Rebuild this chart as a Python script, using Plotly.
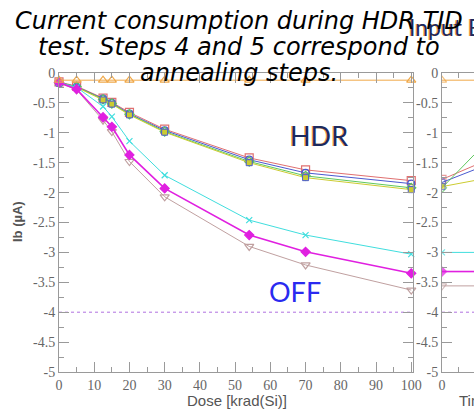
import plotly.graph_objects as go

# ---------------- data ----------------
dose = [0, 5, 12.5, 15, 20, 30, 54, 70, 100]
hdr_red = [-0.15, -0.22, -0.42, -0.49, -0.66, -0.94, -1.42, -1.62, -1.80]
hdr_blue = [-0.16, -0.23, -0.43, -0.50, -0.68, -0.96, -1.45, -1.67, -1.85]
hdr_green = [-0.16, -0.23, -0.44, -0.51, -0.69, -0.98, -1.48, -1.72, -1.92]
hdr_yellow = [-0.17, -0.24, -0.45, -0.52, -0.70, -0.99, -1.50, -1.75, -1.95]
off_cyan = [-0.16, -0.24, -0.56, -0.73, -1.14, -1.71, -2.46, -2.71, -3.03]
off_magenta = [-0.16, -0.27, -0.74, -0.90, -1.37, -1.93, -2.71, -2.99, -3.35]
off_brown = [-0.16, -0.28, -0.79, -0.98, -1.48, -2.07, -2.90, -3.21, -3.63]
top_orange = [-0.12, -0.12, -0.12, -0.12, -0.12, -0.12, -0.12, -0.12, -0.12]
ref_dose = [0, 100]
ref_purple = [-4.0, -4.0]

time_h = [0, 10]
ann_red = [-1.78, -1.55]
ann_blue = [-1.83, -1.62]
ann_green = [-1.92, -1.37]
ann_yellow = [-1.90, -1.80]
ann_cyan = [-3.00, -3.00]
ann_magenta = [-3.32, -3.32]
ann_brown = [-3.56, -3.56]
ann_orange = [-0.12, -0.12]
ann_purple = [-4.0, -4.0]

y_ticks = [0, -0.5, -1, -1.5, -2, -2.5, -3, -3.5, -4, -4.5, -5]
y_ticktext = ["0", "-0.5", "-1", "-1.5", "-2", "-2.5", "-3", "-3.5", "-4", "-4.5", "-5"]
x_ticks = [0, 10, 20, 30, 40, 50, 60, 70, 80, 90, 100]
x2_ticks = [0, 10]

caption_lines = ["Current consumption during HDR TID",
                 "test. Steps 4 and 5 correspond to",
                 "annealing steps."]

# ---------------- layout geometry ----------------
W, H = 474, 409
L, T, B, Rm = 59, 73, 37, 0
PW = W - L - Rm
PH = H - T - B


def px(x):
    return (x - L) / PW


def py(y):
    return (H - B - y) / PH


fig = go.Figure()

series = [
    (hdr_red, ann_red, "#e07070", "square-open", 8, 1),
    (hdr_blue, ann_blue, "#4a5ad0", "circle-open", 7, 1),
    (hdr_green, ann_green, "#5ec85e", "diamond-open", 7, 1),
    (hdr_yellow, ann_yellow, "#cccc30", "square", 6, 1),
    (off_cyan, ann_cyan, "#40dede", "x-thin-open", 6, 1),
    (off_brown, ann_brown, "#c0a0a0", "triangle-down-open", 8, 1),
    (off_magenta, ann_magenta, "#e020e0", "diamond", 7, 1.6),
    (top_orange, ann_orange, "#f0a848", "triangle-up-open", 8, 1),
]

for main_vals, right_vals, col, sym, size, lw in series:
    mline = dict(color=col, width=1.2)
    if sym == "square":
        mline = dict(color="#4a5ad0", width=1)
    fig.add_trace(go.Scatter(
        x=dose, y=main_vals, mode="lines+markers",
        line=dict(color=col, width=lw),
        marker=dict(symbol=sym, size=size, color=col, line=mline),
        xaxis="x", yaxis="y", showlegend=False, cliponaxis=False))
    fig.add_trace(go.Scatter(
        x=time_h, y=right_vals, mode="lines+markers",
        line=dict(color=col, width=lw),
        marker=dict(symbol=sym, size=[size, 0], color=col, line=mline),
        xaxis="x2", yaxis="y2", showlegend=False))

fig.add_trace(go.Scatter(x=ref_dose, y=ref_purple, mode="lines",
                         line=dict(color="#b070e0", width=1, dash="dot"),
                         xaxis="x", yaxis="y", showlegend=False))
fig.add_trace(go.Scatter(x=time_h, y=ann_purple, mode="lines",
                         line=dict(color="#b070e0", width=1, dash="dot"),
                         xaxis="x2", yaxis="y2", showlegend=False))

axis_col = "#9a9a9a"
tickfont = dict(family="Liberation Serif", size=14, color="#666666")
common = dict(showline=True, linecolor=axis_col, linewidth=1, ticks="inside",
              tickcolor=axis_col, ticklen=10, tickwidth=1, showgrid=False,
              zeroline=False, tickfont=tickfont, automargin=False)

fig.update_layout(
    template="none",
    width=W, height=H,
    margin=dict(l=L, r=Rm, t=T, b=B, pad=0),
    paper_bgcolor="white", plot_bgcolor="white",
    xaxis=dict(domain=[0, px(413)], range=[0, 100.5], tickmode="array",
               tickvals=x_ticks, mirror="ticks",
               minor=dict(tickmode="linear", tick0=0, dtick=5, ticks="inside",
                          ticklen=5, tickcolor=axis_col),
               **common),
    yaxis=dict(domain=[0, 1], range=[-5, 0], tickmode="array",
               tickvals=y_ticks, ticktext=y_ticktext, mirror="ticks",
               minor=dict(tickmode="linear", tick0=0, dtick=0.25, ticks="inside",
                          ticklen=5, tickcolor=axis_col),
               **common),
    xaxis2=dict(domain=[px(442), 1], range=[0, 10], tickmode="array",
                tickvals=x2_ticks, mirror="ticks", anchor="y2",
                minor=dict(tickmode="linear", tick0=0, dtick=5, ticks="inside",
                           ticklen=5, tickcolor=axis_col),
                **common),
    yaxis2=dict(domain=[0, 1], range=[-5, 0], tickmode="array",
                tickvals=y_ticks, ticktext=y_ticktext, mirror=False, anchor="x2",
                minor=dict(tickmode="linear", tick0=0, dtick=0.25, ticks="inside",
                           ticklen=5, tickcolor=axis_col),
                **common),
)

ann = []


def text_ann(text, x, y, font, xanchor="center", yanchor="middle", **kw):
    d = dict(text=text, x=px(x), y=py(y), xref="paper", yref="paper",
             xanchor=xanchor, yanchor=yanchor, showarrow=False, font=font)
    d.update(kw)
    return d


# axis titles
ann.append(text_ann("<b>Ib (µA)</b>", 17, 222,
                    dict(family="Liberation Sans", size=13, color="#555555"), textangle=-90))
ann.append(text_ann("Dose [krad(Si)]", 237, 400,
                    dict(family="Liberation Sans", size=15, color="#555555")))
ann.append(text_ann("Time [h]", 457, 400,
                    dict(family="Liberation Sans", size=15, color="#555555"), xanchor="left"))

# HDR / OFF / slide-title labels with orange shadow
labels = [
    ("HDR", 319, 135, "Lato", 27, "#1c2a5e", True, "center"),
    ("OFF", 295, 291, "Lato", 27, "#2a2af0", False, "center"),
    ("Input Bi", 407, 27, "Lato", 23, "#1c2a5e", True, "left"),
]
for txt, xx, yy, fam, size, col, shadow, xa in labels:
    if shadow:
        ann.append(text_ann(txt, xx, yy, dict(family=fam, size=size, color="#f0a040"),
                            xanchor=xa, xshift=-1.5))
    ann.append(text_ann(txt, xx, yy, dict(family=fam, size=size, color=col), xanchor=xa))

# caption
for line, yy in zip(caption_lines, [21, 47, 73]):
    ann.append(text_ann("<i>" + line + "</i>", 239, yy,
                        dict(family="DejaVu Sans", size=24, color="#000000")))

fig.update_layout(annotations=ann)
fig.write_html("out.html")
